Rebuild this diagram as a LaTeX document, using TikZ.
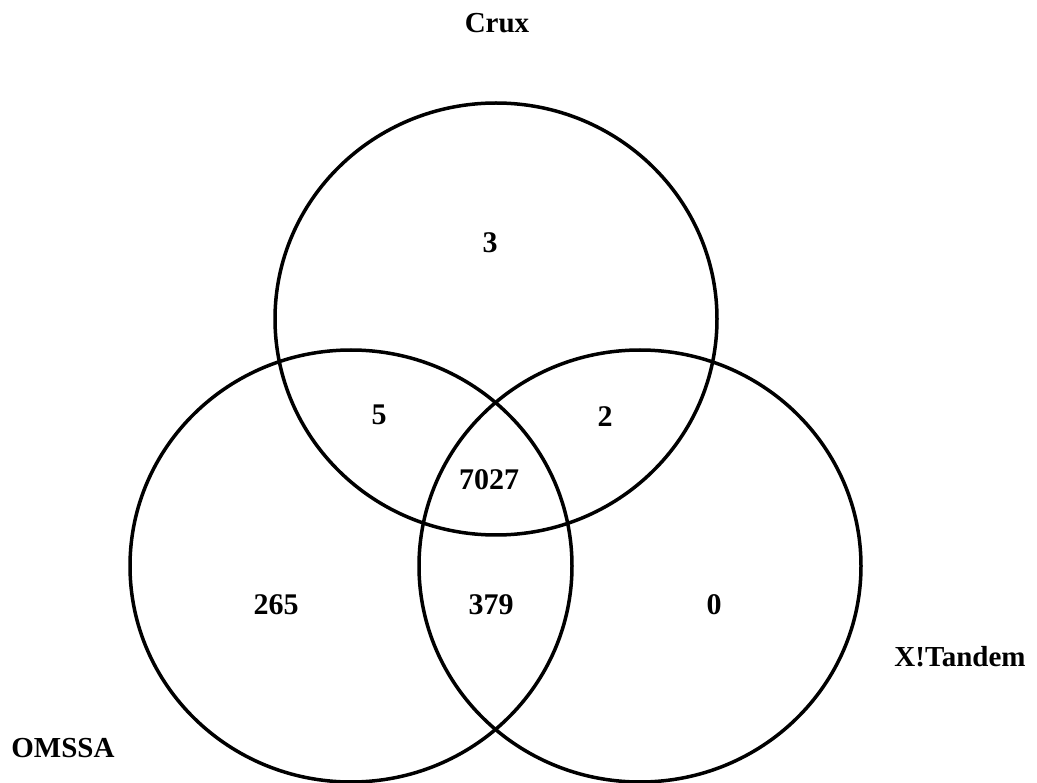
\documentclass[tikz,border=0pt]{standalone}
\usepackage{fontspec}
\setmainfont{Liberation Serif}
\usepackage{tikz}
\usetikzlibrary{shapes.geometric}

\begin{document}
\begin{tikzpicture}[x=1pt, y=-1pt,
    set/.style={draw, ellipse, line width=3.5pt, minimum width=442pt, minimum height=432pt, inner sep=0pt},
    count/.style={font=\fontsize{30}{36}\selectfont\bfseries},
    setname/.style={font=\fontsize{29}{35}\selectfont\bfseries}]
    \useasboundingbox (0,0) rectangle (1037,783);
    \node[set] (Crux) at (496,319) {};
    \node[set] (OMSSA) at (351,566) {};
    \node[set] (XTandem) at (640,566) {};

    \node[setname] (cruxName) at (497,23) {Crux};
    \node[setname] (omssaName) at (63,748) {OMSSA};
    \node[setname] (xtandemName) at (960,657) {X!Tandem};

    \node[count] (onlyCrux) at (490,243) {3};
    \node[count] (cruxOmssa) at (379,415) {5};
    \node[count] (cruxXtandem) at (605,417) {2};
    \node[count] (allThree) at (489,480) {7027};
    \node[count] (onlyOmssa) at (276,605) {265};
    \node[count] (omssaXtandem) at (491,605) {379};
    \node[count] (onlyXtandem) at (714,605) {0};
  \end{tikzpicture}
\end{document}
